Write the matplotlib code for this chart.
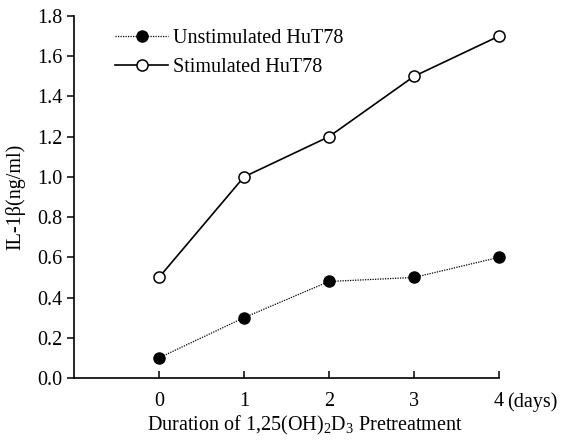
import matplotlib.pyplot as plt

plt.rcParams['font.family'] = ['Liberation Serif', 'DejaVu Serif']
plt.rcParams['mathtext.fontset'] = 'custom'
plt.rcParams['mathtext.rm'] = 'Liberation Serif'

days = [0, 1, 2, 3, 4]
unstimulated = [0.10, 0.30, 0.48, 0.50, 0.60]
stimulated = [0.50, 1.00, 1.20, 1.50, 1.70]
yticks = [0.0, 0.2, 0.4, 0.6, 0.8, 1.0, 1.2, 1.4, 1.6, 1.8]

fs = 14.5

fig = plt.figure(figsize=(5.63, 4.43), dpi=100)
ax = fig.add_axes([0.1314, 0.1467, 0.7549, 0.8172])

ax.plot(days, unstimulated, color='black', linestyle=(0, (1, 1)), linewidth=0.9,
        marker='o', markersize=8, markerfacecolor='black', markeredgecolor='black',
        label='Unstimulated HuT78', clip_on=False)
ax.plot(days, stimulated, color='black', linestyle='-', linewidth=1.2,
        marker='o', markersize=8, markerfacecolor='white', markeredgecolor='black',
        markeredgewidth=1.1, label='Stimulated HuT78', clip_on=False)

ax.set_xlim(-1, 4)
ax.set_ylim(0, 1.8)
ax.set_xticks(days)
ax.set_xticklabels(['0', '1', '2', '3', '4'])
ax.set_yticks(yticks)
ax.set_yticklabels([f'{v:.1f}' for v in yticks])

ax.spines['top'].set_visible(False)
ax.spines['right'].set_visible(False)
for s in ['left', 'bottom']:
    ax.spines[s].set_linewidth(1.2)
ax.tick_params(axis='x', direction='in', length=5, width=1.1, labelsize=fs, pad=10)
ax.tick_params(axis='y', direction='out', length=5, width=1.1, labelsize=fs, pad=3)

ax.annotate('(days)', xy=(4, 0), xycoords=('data', 'axes fraction'),
            xytext=(6, -10), textcoords='offset points', ha='left', va='top', fontsize=fs)

ax.set_xlabel(r'Duration of 1,25(OH)$_2$D$_3$ Pretreatment', fontsize=fs)
ax.xaxis.set_label_coords(0.544, -0.1)
ax.set_ylabel('IL-1β(ng/ml)', fontsize=fs)
ax.yaxis.set_label_coords(-0.115, 0.5)

ax.legend(loc='upper left', bbox_to_anchor=(0.055, 1.015), frameon=False, fontsize=fs,
          handlelength=2.6, handletextpad=0.25, labelspacing=0.5)

fig.savefig('out.png', dpi=100)
